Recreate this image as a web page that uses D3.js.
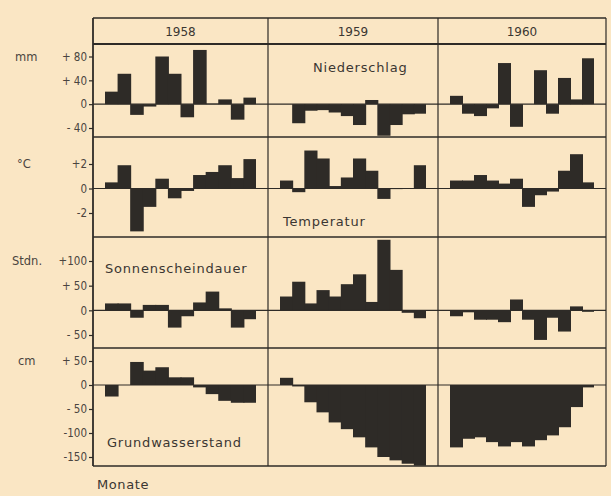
<!DOCTYPE html>
<html>
<head>
<meta charset="utf-8">
<script src="https://cdn.jsdelivr.net/npm/d3@7"></script>
<style>
  html, body { margin: 0; padding: 0; background: #fae6c4; }
  svg { display: block; }
  text { font-family: "DejaVu Sans", sans-serif; fill: #3a3632; }
</style>
</head>
<body>
<div id="chart"></div>
<script>
// categories
const years = ["1958", "1959", "1960"]
const months = ["Jan", "Feb", "Mär", "Apr", "Mai", "Jun", "Jul", "Aug", "Sep", "Okt", "Nov", "Dez"]

// Niederschlag (mm, Abweichung)
const precip1958 = [21, 51, -18, -4, 80, 51, -22, 91, 1, 8, -26, 11]
const precip1959 = [0, -32, -11, -10, -14, -20, -35, 7, -53, -35, -17, -16]
const precip1960 = [14, -16, -20, -7, 69, -38, 0, 57, -16, 44, 8, 77]

// Temperatur (°C)
const temp1958 = [0.5, 1.9, -3.5, -1.5, 0.8, -0.8, -0.2, 1.1, 1.35, 1.9, 0.85, 2.4]
const temp1959 = [0.65, -0.3, 3.1, 2.45, 0.2, 0.9, 2.45, 1.45, -0.85, -0.05, 0, 1.9]
const temp1960 = [0.65, 0.65, 1.1, 0.65, 0.4, 0.8, -1.5, -0.55, -0.25, 1.45, 2.8, 0.5]

// Sonnenscheindauer (Stdn.)
const sun1958 = [14, 14, -15, 11, 11, -35, -12, 16, 38, 4, -35, -18]
const sun1959 = [28, 58, 14, 41, 28, 53, 73, 17, 143, 82, -5, -16]
const sun1960 = [-12, -4, -19, -19, -24, 22, -19, -60, -15, -43, 8, -3]

// Grundwasserstand (cm)
const gw1958 = [-24, 0, 48, 30, 37, 16, 16, -5, -19, -33, -37, -37]
const gw1959 = [15, -3, -36, -57, -78, -92, -109, -130, -150, -157, -164, -168]
const gw1960 = [-130, -112, -109, -119, -128, -119, -128, -115, -105, -88, -46, -5]

// tick values and labels
const precipTicks = [80, 40, 0, -40]
const precipTickLabels = ["+ 80", "+ 40", "0", "- 40"]
const tempTicks = [2, 0, -2]
const tempTickLabels = ["+2", "0", "-2"]
const sunTicks = [100, 50, 0, -50]
const sunTickLabels = ["+100", "+ 50", "0", "- 50"]
const gwTicks = [50, 0, -50, -100, -150]
const gwTickLabels = ["+ 50", "0", "- 50", "-100", "-150"]

const rowTitles = ["Niederschlag", "Temperatur", "Sonnenscheindauer", "Grundwasserstand"]
const units = ["mm", "°C", "Stdn.", "cm"]

// layout
var width = 611, height = 496
var frameLeft = 93, frameRight = 606, headerTop = 18, headerBottom = 44
var rowEdges = [44, 137, 237, 348, 466]
var colEdges = [93, 268, 438, 606]
var ink = "#2e2b27"

var svg = d3.select("#chart")
    .append("svg")
    .attr("width", width)
    .attr("height", height)

// one scale per row
const rows = [
    {series: [precip1958, precip1959, precip1960], ticks: precipTicks, labels: precipTickLabels,
        y: d3.scaleLinear().domain([-40, 80]).range([128, 56.5])},
    {series: [temp1958, temp1959, temp1960], ticks: tempTicks, labels: tempTickLabels,
        y: d3.scaleLinear().domain([-2, 2]).range([213, 164])},
    {series: [sun1958, sun1959, sun1960], ticks: sunTicks, labels: sunTickLabels,
        y: d3.scaleLinear().domain([-50, 100]).range([335, 261])},
    {series: [gw1958, gw1959, gw1960], ticks: gwTicks, labels: gwTickLabels,
        y: d3.scaleLinear().domain([-150, 50]).range([457, 361])}
]

// x band scale per year column
const xs = years.map(function(yr, i) {
    return d3.scaleBand()
        .domain(months)
        .range([colEdges[i] + 12, colEdges[i + 1] - 12])
        .padding(0)
})

// bars
rows.forEach(function(row, r) {
    row.series.forEach(function(values, c) {
        var x = xs[c]
        svg.append("g")
            .selectAll("rect")
            .data(values)
            .enter()
            .append("rect")
            .attr("x", function(d, i) { return x(months[i]) })
            // a little overlap so neighbouring bars join without a seam
            .attr("width", function(d, i) { return x.bandwidth() + (i < 11 ? 1 : 0) })
            .attr("y", function(d) { return Math.min(row.y(d), row.y(0)) })
            .attr("height", function(d) { return Math.abs(row.y(d) - row.y(0)) })
            .attr("fill", ink)
    })

    // zero line across the row
    svg.append("line")
        .attr("x1", frameLeft).attr("x2", frameRight)
        .attr("y1", row.y(0)).attr("y2", row.y(0))
        .attr("stroke", ink).attr("stroke-width", 1.2)

    // left axis
    var axis = d3.axisLeft(row.y)
        .tickValues(row.ticks)
        .tickSize(4)
        .tickPadding(2)
        .tickFormat(function(d, i) { return row.labels[i] })
    var g = svg.append("g")
        .attr("transform", "translate(" + frameLeft + ",0)")
        .call(axis)
    g.select(".domain").remove()
    g.selectAll(".tick line").attr("stroke", ink).attr("stroke-width", 1.2)
    g.selectAll(".tick text")
        .style("font-size", "11.5px")
        .style("fill", "#4a453f")
        .style("font-family", "'DejaVu Sans Condensed', 'DejaVu Sans', sans-serif")

    // unit label
    svg.append("text")
        .attr("x", [15, 17, 12, 18][r])
        .attr("y", row.y(row.ticks[0]) + 4)
        .style("font-size", "11.5px")
        .style("fill", "#4a453f")
        .text(units[r])
})

// frame, header and grid lines
var lines = svg.append("g").attr("stroke", ink).attr("fill", "none")
lines.append("line").attr("x1", frameLeft).attr("x2", frameRight)
    .attr("y1", headerTop).attr("y2", headerTop).attr("stroke-width", 1.5)
rowEdges.forEach(function(yy, i) {
    lines.append("line").attr("x1", frameLeft).attr("x2", frameRight)
        .attr("y1", yy).attr("y2", yy).attr("stroke-width", i === 0 ? 2 : 1.5)
})
colEdges.forEach(function(xx, i) {
    lines.append("line").attr("x1", xx).attr("x2", xx)
        .attr("y1", headerTop).attr("y2", rowEdges[rowEdges.length - 1])
        .attr("stroke-width", i === 0 ? 1.8 : 1.2)
})

// year headers
svg.selectAll(".year")
    .data(years)
    .enter()
    .append("text")
    .attr("class", "year")
    .attr("x", function(d, i) { return (colEdges[i] + colEdges[i + 1]) / 2 })
    .attr("y", 36)
    .attr("text-anchor", "middle")
    .style("font-size", "12px")
    .text(function(d) { return d })

// row titles
const titlePos = [[313, 72], [283, 226], [105, 273], [107, 447]]
svg.selectAll(".rowTitle")
    .data(rowTitles)
    .enter()
    .append("text")
    .attr("class", "rowTitle")
    .attr("x", function(d, i) { return titlePos[i][0] })
    .attr("y", function(d, i) { return titlePos[i][1] })
    .style("font-size", "13px")
    .style("letter-spacing", "0.8px")
    .text(function(d) { return d })

svg.append("text")
    .attr("x", 97)
    .attr("y", 489)
    .style("font-size", "13px")
    .style("letter-spacing", "0.6px")
    .text("Monate")
</script>
</body>
</html>
